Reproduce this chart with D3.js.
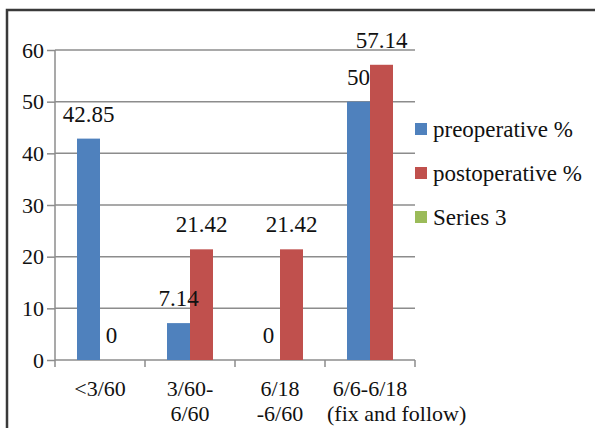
<!DOCTYPE html>
<html>
<head>
<meta charset="utf-8">
<script src="https://cdn.jsdelivr.net/npm/d3@7"></script>
<style>
  html, body { margin: 0; padding: 0; background: #fff; }
  svg { display: block; }
  svg text { font-family: "Liberation Serif", "Times New Roman", serif; fill: #111; }
</style>
</head>
<body>
<svg id="chart" width="595" height="428"></svg>
<script>
// category labels, each one split into its wrapped lines
const categories = [["<3/60"], ["3/60-", "6/60"], ["6/18", "-6/60"], ["6/6-6/18", "(fix and follow)"]];
const preoperative = [42.85, 7.14, 0, 50];
const postoperative = [0, 21.42, 21.42, 57.14];
const seriesNames = ["preoperative %", "postoperative %", "Series 3"];
const seriesColors = ["#4f81bd", "#c0504d", "#9bbb59"];
const yTicks = [0, 10, 20, 30, 40, 50, 60];

const svg = d3.select("#chart");

// outer frame, only top and left edges fall inside the picture
svg.append("rect")
    .attr("x", 7).attr("y", 10)
    .attr("width", 620).attr("height", 440)
    .attr("fill", "none")
    .attr("stroke", "#3a3a3a")
    .attr("stroke-width", 2.5);

const plot = { left: 55, right: 415, top: 50, bottom: 360 };

const x = d3.scaleBand()
    .domain(d3.range(categories.length))
    .range([plot.left, plot.right]);

const x1 = d3.scaleBand()
    .domain([0, 1])
    .range([0, 46])
    .padding(0);

const y = d3.scaleLinear()
    .domain([0, 60])
    .range([plot.bottom, plot.top]);

// gridlines
svg.append("g")
    .selectAll("line")
    .data(yTicks.slice(1))
    .join("line")
    .attr("x1", plot.left).attr("x2", plot.right)
    .attr("y1", (d) => y(d)).attr("y2", (d) => y(d))
    .attr("stroke", "#8c8c8c")
    .attr("stroke-width", 1.5);

// y axis
const yAxis = svg.append("g")
    .attr("transform", `translate(${plot.left},0)`)
    .call(d3.axisLeft(y).tickValues(yTicks).tickSize(8).tickPadding(3));
yAxis.attr("font-family", null);
yAxis.selectAll("path, line").attr("stroke", "#8c8c8c").attr("stroke-width", 1.5);
yAxis.select(".domain").attr("d", `M0,${plot.bottom}V${plot.top}`);
yAxis.selectAll("text")
    .attr("font-size", 22)
    .attr("fill", "#111");

// x axis with ticks at band edges
const xAxis = svg.append("g");
xAxis.append("line")
    .attr("x1", plot.left).attr("x2", plot.right)
    .attr("y1", plot.bottom).attr("y2", plot.bottom)
    .attr("stroke", "#8c8c8c")
    .attr("stroke-width", 1.5);
xAxis.selectAll("line.tick")
    .data(d3.range(categories.length + 1))
    .join("line")
    .attr("class", "tick")
    .attr("x1", (i) => plot.left + i * x.bandwidth())
    .attr("x2", (i) => plot.left + i * x.bandwidth())
    .attr("y1", plot.bottom).attr("y2", plot.bottom + 7)
    .attr("stroke", "#8c8c8c")
    .attr("stroke-width", 1.5);

// one text per wrapped line; a line wider than its band starts at the band edge
const labelLines = categories.flatMap((lines, i) => lines.map((t, k) => ({ t, i, k })));
xAxis.selectAll("text")
    .data(labelLines)
    .join("text")
    .attr("font-size", 22)
    .attr("y", (d) => 396 + d.k * 25)
    .text((d) => d.t)
    .each(function (d) {
        const w = this.getComputedTextLength();
        const el = d3.select(this);
        if (w > x.bandwidth() - 4) {
            el.attr("text-anchor", "start").attr("x", x(d.i) + 2);
        } else {
            el.attr("text-anchor", "middle").attr("x", x(d.i) + x.bandwidth() / 2);
        }
    });

// bars
const rows = categories.map((c, i) => [preoperative[i], postoperative[i]]);

const groups = svg.append("g")
    .selectAll("g")
    .data(rows)
    .join("g")
    .attr("transform", (d, i) => `translate(${x(i) + x.bandwidth() / 2 - 23},0)`);

groups.selectAll("rect")
    .data((d) => d)
    .join("rect")
    .attr("x", (d, j) => x1(j))
    .attr("width", x1.bandwidth())
    .attr("y", (d) => y(d))
    .attr("height", (d) => y(0) - y(d))
    .attr("fill", (d, j) => seriesColors[j]);

groups.selectAll("text")
    .data((d) => d)
    .join("text")
    .attr("text-anchor", "middle")
    .attr("font-size", 23)
    .attr("x", (d, j) => x1(j) + x1.bandwidth() / 2)
    .attr("y", (d) => y(d) - 17)
    .text((d) => d);

// legend
const legend = svg.append("g")
    .selectAll("g")
    .data(seriesNames)
    .join("g")
    .attr("transform", (d, i) => `translate(415,${123 + i * 44})`);

legend.append("rect")
    .attr("width", 12).attr("height", 12)
    .attr("fill", (d, i) => seriesColors[i]);

legend.append("text")
    .attr("x", 18)
    .attr("y", 14)
    .attr("font-size", 23)
    .text((d) => d);
</script>
</body>
</html>
